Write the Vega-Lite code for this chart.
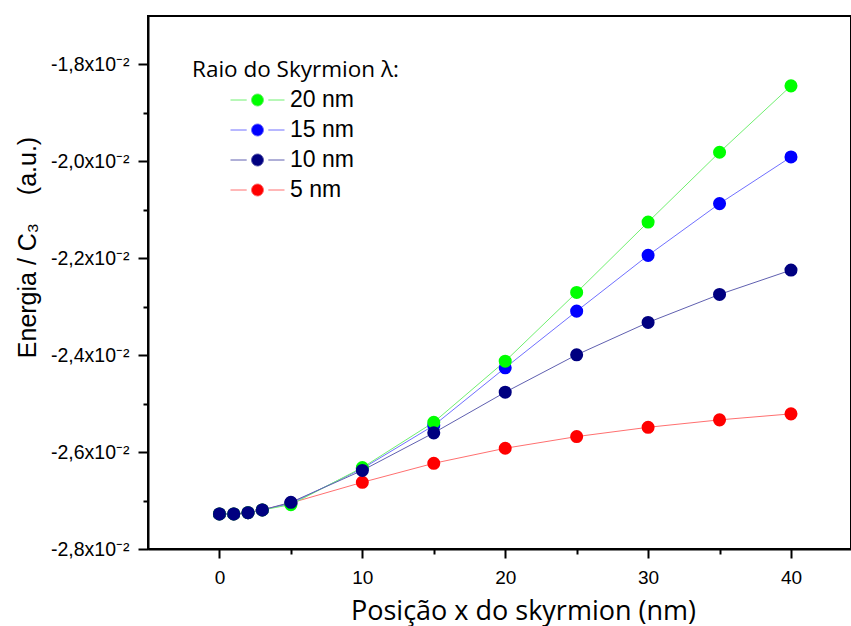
{
  "$schema": "https://vega.github.io/schema/vega-lite/v6.json",
  "width": 703,
  "height": 533,
  "autosize": {"type": "none"},
  "padding": {"left": 148, "top": 16, "right": 0, "bottom": 77},
  "background": "white",
  "config": {
    "view": {"stroke": "black", "strokeWidth": 2},
    "axis": {
      "domainColor": "black", "domainWidth": 2,
      "tickColor": "black", "tickWidth": 2,
      "grid": false,
      "labelFont": "Liberation Sans", "labelFontSize": 19, "labelColor": "black",
      "titleColor": "black", "titleFontWeight": "normal"
    }
  },
  "data": {
    "values": [
      {"r": "5 nm", "x": 0, "E": -0.027277},
      {"r": "5 nm", "x": 1, "E": -0.027277},
      {"r": "5 nm", "x": 2, "E": -0.02725},
      {"r": "5 nm", "x": 3, "E": -0.027194},
      {"r": "5 nm", "x": 5, "E": -0.02705},
      {"r": "5 nm", "x": 10, "E": -0.026624},
      {"r": "5 nm", "x": 15, "E": -0.026231},
      {"r": "5 nm", "x": 20, "E": -0.025921},
      {"r": "5 nm", "x": 25, "E": -0.02568},
      {"r": "5 nm", "x": 30, "E": -0.025488},
      {"r": "5 nm", "x": 35, "E": -0.025335},
      {"r": "5 nm", "x": 40, "E": -0.025211},
      {"r": "15 nm", "x": 0, "E": -0.027277},
      {"r": "15 nm", "x": 1, "E": -0.027277},
      {"r": "15 nm", "x": 2, "E": -0.02725},
      {"r": "15 nm", "x": 3, "E": -0.027194},
      {"r": "15 nm", "x": 5, "E": -0.02706},
      {"r": "15 nm", "x": 10, "E": -0.02634},
      {"r": "15 nm", "x": 15, "E": -0.02545},
      {"r": "15 nm", "x": 20, "E": -0.02426},
      {"r": "15 nm", "x": 25, "E": -0.023091},
      {"r": "15 nm", "x": 30, "E": -0.02194},
      {"r": "15 nm", "x": 35, "E": -0.020872},
      {"r": "15 nm", "x": 40, "E": -0.019909},
      {"r": "20 nm", "x": 0, "E": -0.027277},
      {"r": "20 nm", "x": 1, "E": -0.027277},
      {"r": "20 nm", "x": 2, "E": -0.02725},
      {"r": "20 nm", "x": 3, "E": -0.027194},
      {"r": "20 nm", "x": 5, "E": -0.027085},
      {"r": "20 nm", "x": 10, "E": -0.02632},
      {"r": "20 nm", "x": 15, "E": -0.025384},
      {"r": "20 nm", "x": 20, "E": -0.024124},
      {"r": "20 nm", "x": 25, "E": -0.022705},
      {"r": "20 nm", "x": 30, "E": -0.021252},
      {"r": "20 nm", "x": 35, "E": -0.019812},
      {"r": "20 nm", "x": 40, "E": -0.018442},
      {"r": "10 nm", "x": 0, "E": -0.027277},
      {"r": "10 nm", "x": 1, "E": -0.027277},
      {"r": "10 nm", "x": 2, "E": -0.02725},
      {"r": "10 nm", "x": 3, "E": -0.027194},
      {"r": "10 nm", "x": 5, "E": -0.027037},
      {"r": "10 nm", "x": 10, "E": -0.026378},
      {"r": "10 nm", "x": 15, "E": -0.025603},
      {"r": "10 nm", "x": 20, "E": -0.024764},
      {"r": "10 nm", "x": 25, "E": -0.023992},
      {"r": "10 nm", "x": 30, "E": -0.023324},
      {"r": "10 nm", "x": 35, "E": -0.022746},
      {"r": "10 nm", "x": 40, "E": -0.022244}
    ]
  },
  "encoding": {
    "x": {
      "field": "x", "type": "quantitative",
      "scale": {"domain": [-5, 44.2], "nice": false, "zero": false},
      "axis": {
        "values": [0, 5, 10, 15, 20, 25, 30, 35, 40],
        "labelExpr": "datum.value % 10 == 0 ? datum.label : ''",
        "tickSize": {"condition": {"test": "datum.value % 10 == 0", "value": 9}, "value": 5},
        "labelPadding": 10,
        "title": "Posição x do skyrmion (nm)",
        "titleFont": "Open Sans", "titleFontSize": 27,
        "titleX": 375, "titleY": 70, "titleAlign": "center", "titleBaseline": "alphabetic"
      }
    },
    "y": {
      "field": "E", "type": "quantitative",
      "scale": {"domain": [-0.028, -0.017], "nice": false, "zero": false},
      "axis": {
        "values": [-0.028, -0.027, -0.026, -0.025, -0.024, -0.023, -0.022, -0.021, -0.02, -0.019, -0.018],
        "labelExpr": "abs(round(datum.value*1000)) % 2 == 0 ? '-' + replace(format(-datum.value*100, '.1f'), '.', ',') + 'x10⁻²' : ''",
        "tickSize": {"condition": {"test": "abs(round(datum.value*1000)) % 2 == 0", "value": 10}, "value": 5},
        "labelPadding": 9,
        "labelFontSize": 19.5,
        "title": "Energia / C₃\u00a0\u00a0\u00a0\u00a0(a.u.)",
        "titleFont": "Liberation Sans", "titleFontSize": 25,
        "titleAngle": 270, "titleX": -113, "titleY": 231, "titleAlign": "center", "titleBaseline": "alphabetic"
      }
    }
  },
  "layer": [
    {
      "mark": {"type": "line", "strokeWidth": 1},
      "encoding": {
        "stroke": {
          "field": "r", "type": "nominal",
          "scale": {"domain": ["20 nm", "15 nm", "10 nm", "5 nm"], "range": ["#70f070", "#7070ff", "#6060b0", "#ff7070"]},
          "legend": {
            "title": "Raio do Skyrmion λ:", "orient": "none", "legendX": 44, "legendY": 43,
            "padding": 0, "titleLimit": 400, "labelLimit": 200,
            "symbolType": "M-4.5,0H-1.8M1.8,0H4.5M1,0A1,1,0,1,1,-1,0A1,1,0,1,1,1,0Z",
            "symbolSize": 144, "symbolStrokeWidth": 1,
            "symbolOffset": 54, "labelOffset": 21,
            "labelFont": "Liberation Sans", "labelFontSize": 23, "labelColor": "black",
            "titleFont": "Open Sans", "titleFontSize": 22.5, "titleFontWeight": "normal", "titleColor": "black",
            "titlePadding": 7, "rowPadding": 6
          }
        }
      }
    },
    {
      "mark": {"type": "point", "filled": true, "size": 170, "opacity": 1, "strokeWidth": 0},
      "encoding": {
        "fill": {
          "field": "r", "type": "nominal",
          "scale": {"domain": ["20 nm", "15 nm", "10 nm", "5 nm"], "range": ["#00ff00", "#0000ff", "#000080", "#ff0000"]},
          "legend": {
            "title": "Raio do Skyrmion λ:", "orient": "none", "legendX": 44, "legendY": 43,
            "padding": 0, "titleLimit": 400, "labelLimit": 200,
            "symbolType": "M-4.5,0H-1.8M1.8,0H4.5M1,0A1,1,0,1,1,-1,0A1,1,0,1,1,1,0Z",
            "symbolSize": 144, "symbolStrokeWidth": 1,
            "symbolOffset": 54, "labelOffset": 21,
            "labelFont": "Liberation Sans", "labelFontSize": 23, "labelColor": "black",
            "titleFont": "Open Sans", "titleFontSize": 22.5, "titleFontWeight": "normal", "titleColor": "black",
            "titlePadding": 7, "rowPadding": 6
          }
        }
      }
    }
  ]
}
